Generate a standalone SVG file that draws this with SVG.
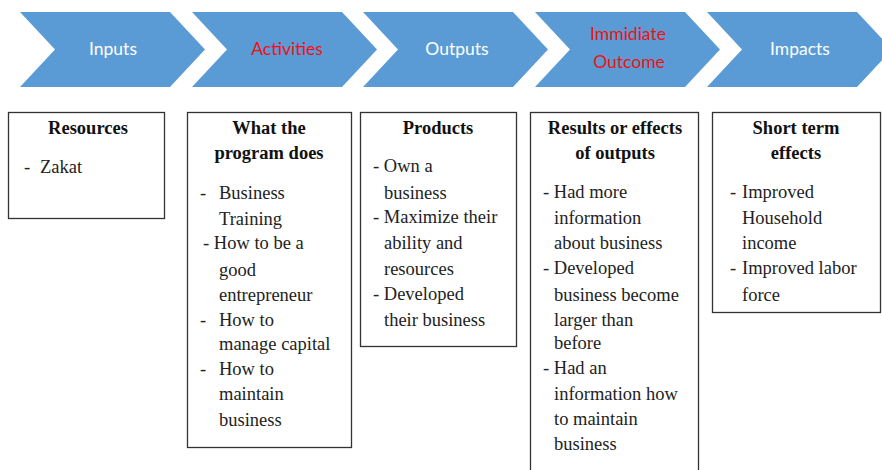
<svg xmlns="http://www.w3.org/2000/svg" width="882" height="470" viewBox="0 0 882 470">
<style>
.chev{fill:#5b9bd5}
.ct{font-family:Lato,"Liberation Sans",sans-serif;font-size:17.5px;text-anchor:middle}
.w{fill:#ffffff}
.r{fill:#ee1111}
.box{fill:#ffffff;stroke:#333333;stroke-width:1.3}
.h{font-family:"Liberation Serif","Times New Roman",serif;font-size:18.5px;font-weight:bold;text-anchor:middle;fill:#111}
.body text{font-family:"Liberation Serif","Times New Roman",serif;font-size:18.5px;font-weight:normal;fill:#222}
</style>
<rect width="882" height="470" fill="#ffffff"/>
<g id="chev-inputs">
<polygon class="chev" points="20,12 170,12 205,49.5 170,87 20,87 55,49.5"/>
<text class="ct w" x="113" y="55">Inputs</text>
</g>
<g id="chev-activities">
<polygon class="chev" points="192,12 342,12 377,49.5 342,87 192,87 227,49.5"/>
<text class="ct r" x="287" y="55">Activities</text>
</g>
<g id="chev-outputs">
<polygon class="chev" points="363,12 513,12 548,49.5 513,87 363,87 398,49.5"/>
<text class="ct w" x="457" y="55">Outputs</text>
</g>
<g id="chev-outcome">
<polygon class="chev" points="535,12 685,12 720,49.5 685,87 535,87 570,49.5"/>
<text class="ct r" x="628" y="40">Immidiate</text>
<text class="ct r" x="629" y="68">Outcome</text>
</g>
<g id="chev-impacts">
<polygon class="chev" points="707,12 857,12 892,49.5 857,87 707,87 742,49.5"/>
<text class="ct w" x="800" y="55">Impacts</text>
</g>
<g id="box-resources">
<rect class="box" x="8.5" y="112.5" width="156" height="106"/>
<text class="h" x="88" y="134">Resources</text>
<g class="body">
<text x="24" y="173">-</text>
<text x="40" y="173">Zakat</text>
</g>
</g>
<g id="box-activities">
<rect class="box" x="187.5" y="112.5" width="164" height="335"/>
<text class="h" x="269" y="134">What the</text>
<text class="h" x="269" y="159">program does</text>
<g class="body">
<text x="200" y="199">-</text>
<text x="219" y="199">Business</text>
<text x="219" y="225">Training</text>
<text x="203" y="249">- How to be a</text>
<text x="219" y="276">good</text>
<text x="219" y="301">entrepreneur</text>
<text x="200" y="326">-</text>
<text x="219" y="326">How to</text>
<text x="219" y="350">manage capital</text>
<text x="200" y="375">-</text>
<text x="219" y="375">How to</text>
<text x="219" y="400">maintain</text>
<text x="219" y="426">business</text>
</g>
</g>
<g id="box-products">
<rect class="box" x="360.5" y="112.5" width="156" height="234"/>
<text class="h" x="438" y="134">Products</text>
<g class="body">
<text x="373" y="172">- Own a</text>
<text x="384" y="199">business</text>
<text x="373" y="223">- Maximize their</text>
<text x="384" y="249">ability and</text>
<text x="384" y="275">resources</text>
<text x="373" y="300">- Developed</text>
<text x="384" y="326">their business</text>
</g>
</g>
<g id="box-outcome">
<rect class="box" x="530.5" y="112.5" width="168" height="370"/>
<text class="h" x="615" y="134">Results or effects</text>
<text class="h" x="615" y="159">of outputs</text>
<g class="body">
<text x="543" y="198">- Had more</text>
<text x="554" y="224">information</text>
<text x="554" y="249">about business</text>
<text x="543" y="274">- Developed</text>
<text x="554" y="301">business become</text>
<text x="554" y="326">larger than</text>
<text x="554" y="349">before</text>
<text x="543" y="374">- Had an</text>
<text x="554" y="400">information how</text>
<text x="554" y="425">to maintain</text>
<text x="554" y="450">business</text>
</g>
</g>
<g id="box-impacts">
<rect class="box" x="712.5" y="112.5" width="168" height="200"/>
<text class="h" x="796" y="134">Short term</text>
<text class="h" x="796" y="159">effects</text>
<g class="body">
<text x="730" y="198">-</text>
<text x="742" y="198">Improved</text>
<text x="742" y="224">Household</text>
<text x="742" y="249">income</text>
<text x="730" y="274">-</text>
<text x="742" y="274">Improved labor</text>
<text x="742" y="301">force</text>
</g>
</g>
<g id="connectors"></g>
</svg>
